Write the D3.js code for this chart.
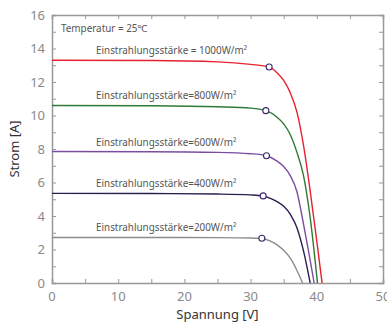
<!DOCTYPE html>
<html>
<head>
<meta charset="utf-8">
<script src="https://cdn.jsdelivr.net/npm/d3@7"></script>
<style>
  body { margin: 0; background: #fff; }
  svg { font-family: "Noto Sans", sans-serif; }
</style>
</head>
<body>
<div id="chart"></div>
<script>
// irradiance levels and their I-V curves (voltage V, current A)
const levels = ["1000", "800", "600", "400", "200"];
const labels = [
  "Einstrahlungsstärke = 1000W/m²",
  "Einstrahlungsstärke=800W/m²",
  "Einstrahlungsstärke=600W/m²",
  "Einstrahlungsstärke=400W/m²",
  "Einstrahlungsstärke=200W/m²"
];
const colors = ["#e8212e", "#2f7a36", "#7a4da0", "#2b1d4f", "#8c8c8c"];

const curve1000 = [[0,13.3],[15,13.28],[25,13.2],[30,13.05],[32.8,12.9],[34,12.55],[35,12.1],[36,11.35],[37,10.2],[38,8.2],[39,5.5],[40,2.5],[40.8,0]];
const curve800 = [[0,10.6],[15,10.58],[25,10.52],[30,10.44],[32.3,10.29],[34,9.9],[35,9.5],[36,8.85],[37,7.8],[38,6.4],[39,3.9],[40.1,0]];
const curve600 = [[0,7.85],[15,7.84],[25,7.8],[30,7.72],[32.4,7.6],[34,7.28],[35,6.95],[36,6.4],[37,5.45],[38,3.5],[38.8,1.8],[39.6,0]];
const curve400 = [[0,5.35],[15,5.34],[25,5.31],[30,5.26],[31.9,5.2],[33,5.05],[34,4.86],[35,4.58],[36,4.1],[37,3.3],[38,1.9],[39,0]];
const curve200 = [[0,2.72],[15,2.72],[25,2.71],[30,2.69],[31.7,2.66],[33,2.5],[34,2.28],[35,1.95],[36,1.48],[37,0.75],[37.85,0]];
const curves = [curve1000, curve800, curve600, curve400, curve200];

// maximum power points
const mpp = [[32.8,12.9],[32.3,10.29],[32.4,7.6],[31.9,5.2],[31.7,2.67]];
const isc = [13.3, 10.6, 7.85, 5.35, 2.72];

const xTicks = [0, 10, 20, 30, 40, 50];
const yTicks = [0, 2, 4, 6, 8, 10, 12, 14, 16];

const width = 387, height = 326;
const margin = {top: 15, right: 4, bottom: 43, left: 52};
const w = width - margin.left - margin.right;
const h = height - margin.top - margin.bottom;

const svg = d3.select("#chart").append("svg")
  .attr("width", width)
  .attr("height", height);

const g = svg.append("g")
  .attr("transform", `translate(${margin.left},${margin.top})`);

const x = d3.scaleLinear().domain([0, 50]).range([0, w]);
const y = d3.scaleLinear().domain([0, 16]).range([h, 0]);

const axisColor = "#999";
const tickColor = "#8a8a8a";

// axes, ticks pointing inwards on all four sides
const minorX = d3.range(0, 51, 5);
const minorY = d3.range(0, 17, 1);

const axB = g.append("g").attr("transform", `translate(0,${h})`)
  .call(d3.axisBottom(x).tickValues(minorX).tickSize(-4).tickFormat(""));
const axT = g.append("g")
  .call(d3.axisTop(x).tickValues(minorX).tickSize(-4).tickFormat(""));
const axL = g.append("g")
  .call(d3.axisLeft(y).tickValues(minorY).tickSize(-4).tickFormat(""));
const axR = g.append("g").attr("transform", `translate(${w},0)`)
  .call(d3.axisRight(y).tickValues(minorY).tickSize(-4).tickFormat(""));

[axB, axT, axL, axR].forEach(a => {
  a.selectAll("path").attr("stroke", axisColor).attr("stroke-width", 1.5);
  a.selectAll("line").attr("stroke", axisColor);
});

// tick labels
g.append("g").selectAll("text")
  .data(xTicks)
  .enter().append("text")
  .attr("x", d => x(d))
  .attr("y", h + 18)
  .attr("text-anchor", "middle")
  .attr("font-size", 13)
  .attr("fill", tickColor)
  .text(d => d);

g.append("g").selectAll("text")
  .data(yTicks)
  .enter().append("text")
  .attr("x", -7)
  .attr("y", d => y(d))
  .attr("dy", "0.35em")
  .attr("text-anchor", "end")
  .attr("font-size", 13)
  .attr("fill", tickColor)
  .text(d => d);

// curves
const line = d3.line()
  .x(d => x(d[0]))
  .y(d => y(d[1]))
  .curve(d3.curveMonotoneX);

g.selectAll(".iv")
  .data(curves)
  .enter().append("path")
  .attr("class", "iv")
  .attr("d", line)
  .attr("fill", "none")
  .attr("stroke", (d, i) => colors[i])
  .attr("stroke-width", 1.4);

// curve labels
g.selectAll(".lbl")
  .data(labels)
  .enter().append("text")
  .attr("class", "lbl")
  .attr("x", 44)
  .attr("y", (d, i) => y(isc[i]) - 6)
  .attr("font-size", 9.9)
  .attr("fill", "#555")
  .text(d => d);

// mpp markers
g.selectAll(".mpp")
  .data(mpp)
  .enter().append("circle")
  .attr("class", "mpp")
  .attr("cx", d => x(d[0]))
  .attr("cy", d => y(d[1]))
  .attr("r", 3)
  .attr("fill", "#fff")
  .attr("stroke", "#3b2a6b")
  .attr("stroke-width", 1.1);

g.append("text")
  .attr("x", 9)
  .attr("y", 17)
  .attr("font-size", 9.9)
  .attr("fill", "#555")
  .text("Temperatur = 25℃");

// axis titles
g.append("text")
  .attr("x", w / 2)
  .attr("y", h + 36)
  .attr("text-anchor", "middle")
  .attr("font-size", 13)
  .attr("fill", "#333")
  .text("Spannung [V]");

g.append("text")
  .attr("transform", "rotate(-90)")
  .attr("x", -h / 2)
  .attr("y", -33)
  .attr("text-anchor", "middle")
  .attr("font-size", 13)
  .attr("fill", "#333")
  .text("Strom [A]");
</script>
</body>
</html>
